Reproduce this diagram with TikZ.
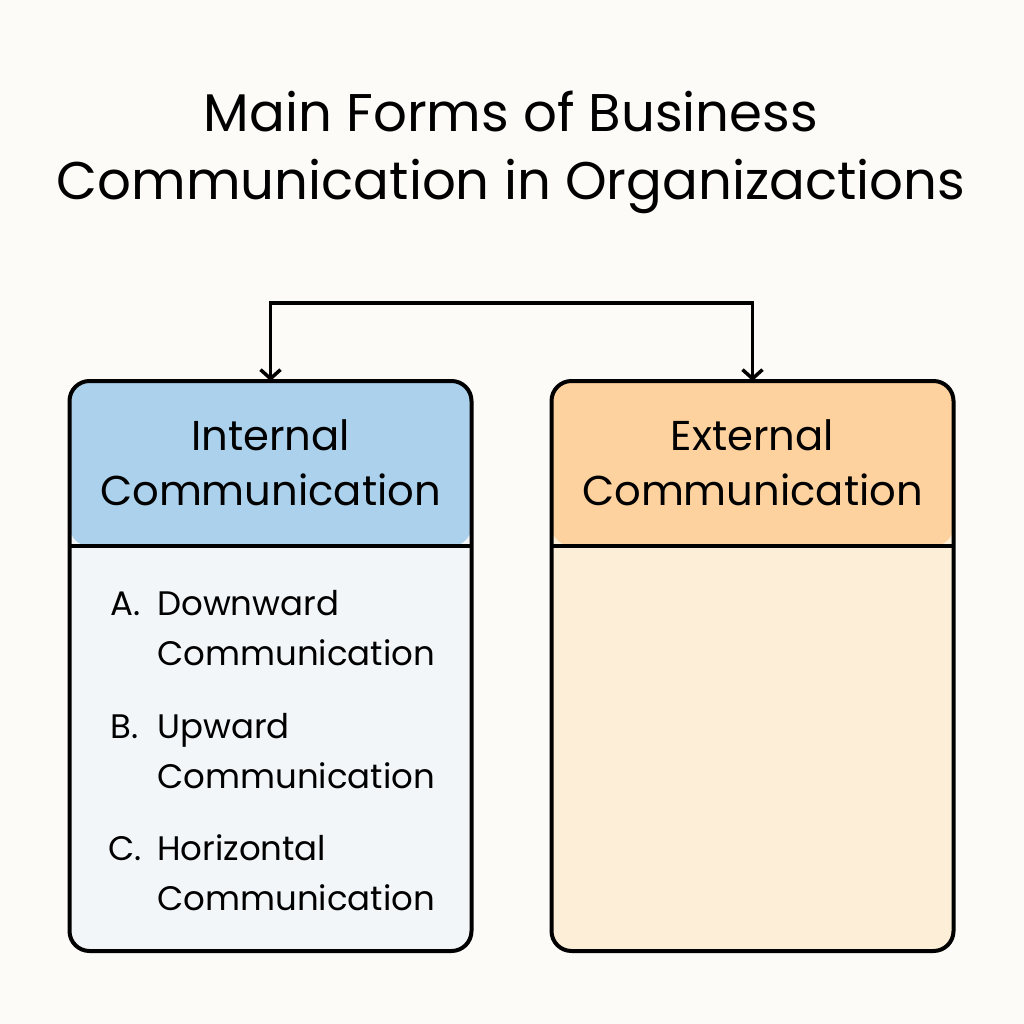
\documentclass[tikz,border=0pt]{standalone}
\usepackage{fontspec}
\setmainfont{Poppins}
\usetikzlibrary{positioning}
\usetikzlibrary{arrows.meta}
\definecolor{pagebg}{RGB}{253,251,247}
\definecolor{internhead}{RGB}{171,209,236}
\definecolor{internbody}{RGB}{243,246,249}
\definecolor{externhead}{RGB}{254,210,158}
\definecolor{externbody}{RGB}{253,238,216}
\tikzset{
	commbox/.style={draw=black, line width=4pt, rounded corners=20pt, minimum width=402pt, minimum height=570pt, inner sep=0pt, outer sep=0pt},
	headfill/.style={path picture={
		\fill[#1] (path picture bounding box.north west) rectangle ([yshift=-165pt]path picture bounding box.north east);
		\draw[line width=4pt] ([yshift=-165pt]path picture bounding box.north west) -- ([yshift=-165pt]path picture bounding box.north east);
	}},
	headtext/.style={anchor=base, align=center, inner sep=0pt, font=\fontsize{41.7}{55}\selectfont},
	itemtext/.style={anchor=base west, align=left, inner sep=0pt, font=\fontsize{34}{50}\selectfont},
	itemmark/.style={anchor=base west, inner sep=0pt, font=\fontsize{34}{50}\selectfont},
}

\begin{document}
\begin{tikzpicture}[x=1pt, y=-1pt]
	\fill[pagebg] (0,0) rectangle (1024,1024);
	\useasboundingbox (0,0) rectangle (1024,1024);
	
	\node[anchor=base, align=center, inner sep=0pt, font=\fontsize{53}{68}\selectfont] (title) at (511,200) {Main Forms of Business\\Communication in Organizactions};
	
	\node[commbox, fill=internbody, headfill=internhead] (internBox) at (270.5,666) {};
	\node[commbox, fill=externbody, headfill=externhead] (externBox) at (752.5,666) {};
	\node[headtext] (internHead) at (270.5,505) {Internal\\Communication};
	\node[headtext] (externHead) at (752.5,505) {External\\Communication};
	
	% internal forms
	\node[itemmark] (markA) at (110,615) {A.};
	\node[itemtext] (downward) at (157,665) {Downward\\Communication};
	\node[itemmark] (markB) at (110,738) {B.};
	\node[itemtext] (upward) at (157,788) {Upward\\Communication};
	\node[itemmark] (markC) at (108,860) {C.};
	\node[itemtext] (horizontal) at (157,910) {Horizontal\\Communication};
	
	\draw[{Straight Barb[length=9pt, width=20pt]}-{Straight Barb[length=9pt, width=20pt]}, line width=3.5pt] (internBox.north) -- ++(0,-78) -| (externBox.north);
\end{tikzpicture}
\end{document}
